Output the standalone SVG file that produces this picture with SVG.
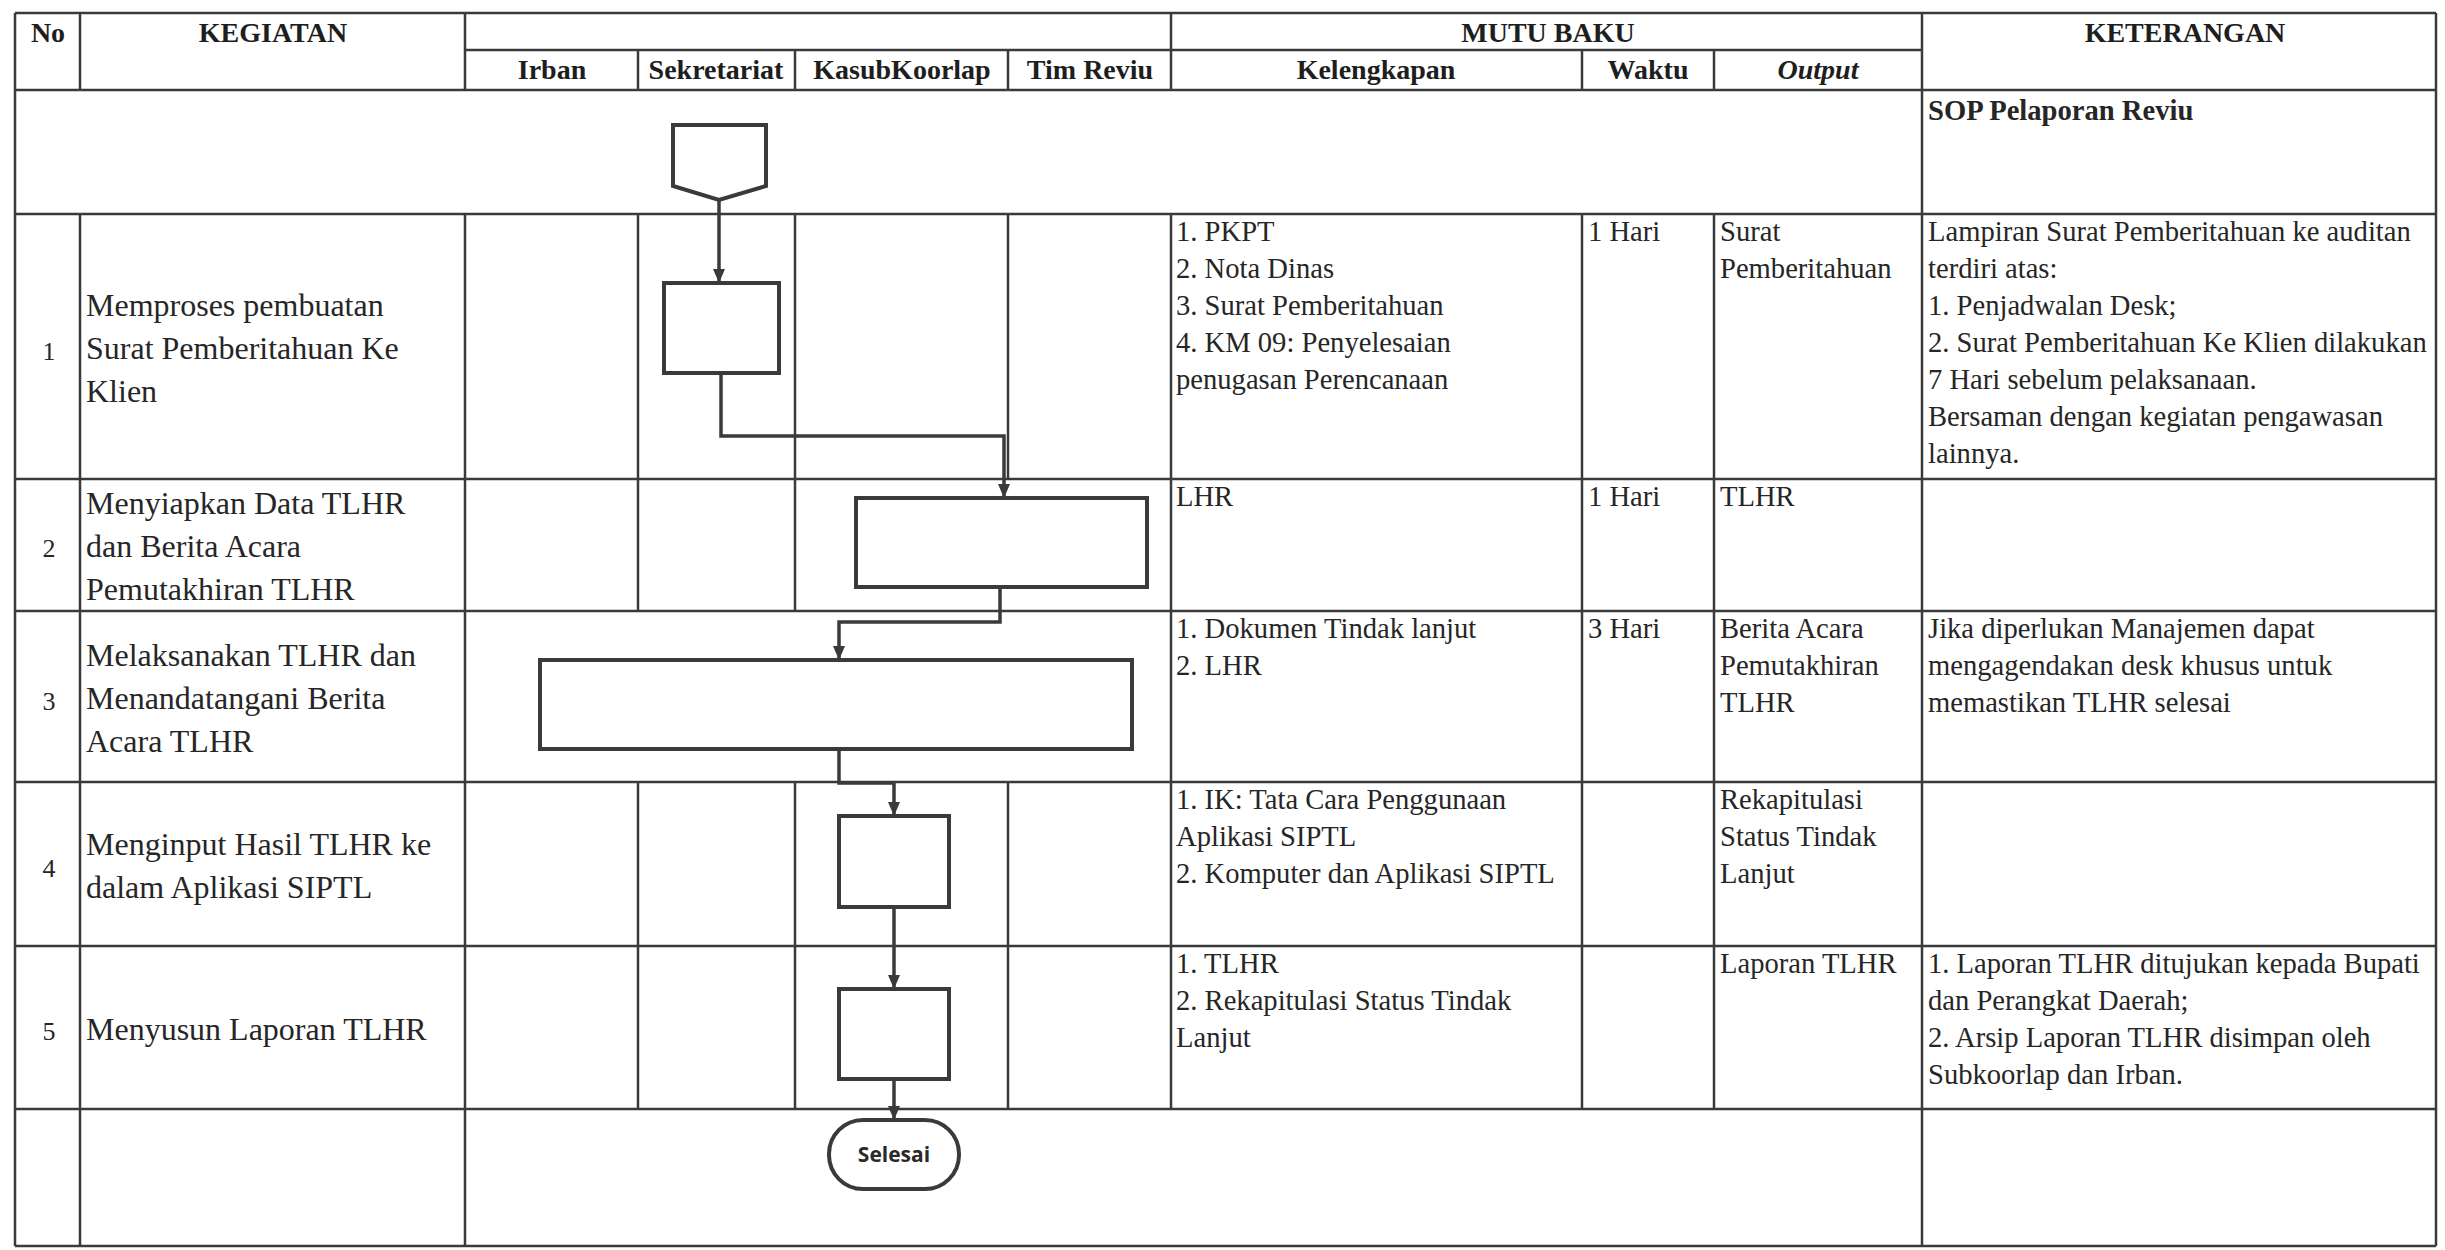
<svg xmlns="http://www.w3.org/2000/svg" width="2445" height="1250" viewBox="0 0 2445 1250">
<style>
  .grid { fill: none; stroke: #3a3a3a; stroke-width: 2.5; }
  .hd { font-family: "Liberation Serif", "Times New Roman", serif; font-weight: bold; font-size: 28px; fill: #1e1e1e; text-anchor: middle; }
  .keg { font-family: "Liberation Serif", "Times New Roman", serif; font-size: 32px; fill: #262626; }
  .num { font-family: "Liberation Serif", "Times New Roman", serif; font-size: 26px; fill: #262626; text-anchor: middle; }
  .txt { font-family: "Liberation Serif", "Times New Roman", serif; font-size: 28.6px; fill: #262626; }
  .bold { font-weight: bold; }
  .shape { fill: #ffffff; stroke: #3a3a3a; stroke-width: 4; }
  .conn { fill: none; stroke: #3a3a3a; stroke-width: 3.5; }
  .term { font-family: "Open Sans", "Liberation Sans", sans-serif; font-weight: bold; font-size: 21px; fill: #2a2a2a; text-anchor: middle; }
</style>
<defs>
  <marker id="arrow" markerUnits="userSpaceOnUse" markerWidth="16" markerHeight="14" refX="14" refY="6" orient="auto">
    <path d="M0,0 L14,6 L0,12 z" fill="#3a3a3a"/>
  </marker>
</defs>
<rect x="0" y="0" width="2445" height="1250" fill="#ffffff"/>

<g id="table-grid" class="grid">
  <path d="M15,13 H2436 M465,50 H1922 M15,90 H2436 M15,214 H2436 M15,479 H2436 M15,611 H2436 M15,782 H2436 M15,946 H2436 M15,1109 H2436 M15,1246 H2436"/>
  <path d="M15,13 V1246 M2436,13 V1246 M1922,13 V1246
           M80,13 V90 M80,214 V1246
           M465,13 V90 M465,214 V1246
           M1171,13 V90 M1171,214 V1109
           M638,50 V90 M638,214 V611 M638,782 V1109
           M795,50 V90 M795,214 V611 M795,782 V1109
           M1008,50 V90 M1008,214 V479 M1008,782 V1109
           M1582,50 V90 M1582,214 V1109
           M1714,50 V90 M1714,214 V1109"/>
</g>

<g id="header">
  <text class="hd" x="48" y="42">No</text>
  <text class="hd" x="273" y="42">KEGIATAN</text>
  <text class="hd" x="1548" y="42">MUTU BAKU</text>
  <text class="hd" x="2185" y="42">KETERANGAN</text>
  <text class="hd" x="552" y="79">Irban</text>
  <text class="hd" x="716" y="79">Sekretariat</text>
  <text class="hd" x="902" y="79">KasubKoorlap</text>
  <text class="hd" x="1090" y="79">Tim Reviu</text>
  <text class="hd" x="1376" y="79">Kelengkapan</text>
  <text class="hd" x="1648" y="79">Waktu</text>
  <text class="hd" x="1818" y="79" font-style="italic">Output</text>
</g>

<g id="row-0">
  <text class="txt bold" x="1928" y="120">SOP Pelaporan Reviu</text>
</g>

<g id="row-1">
  <text class="num" x="49" y="360">1</text>
  <text class="keg" x="86"><tspan x="86" y="316">Memproses pembuatan</tspan><tspan x="86" y="359">Surat Pemberitahuan Ke</tspan><tspan x="86" y="402">Klien</tspan></text>
  <text class="txt" x="1176"><tspan x="1176" y="241">1. PKPT</tspan><tspan x="1176" y="278">2. Nota Dinas</tspan><tspan x="1176" y="315">3. Surat Pemberitahuan</tspan><tspan x="1176" y="352">4. KM 09: Penyelesaian</tspan><tspan x="1176" y="389">penugasan Perencanaan</tspan></text>
  <text class="txt" x="1588" y="241">1 Hari</text>
  <text class="txt" x="1720"><tspan x="1720" y="241">Surat</tspan><tspan x="1720" y="278">Pemberitahuan</tspan></text>
  <text class="txt" x="1928"><tspan x="1928" y="241">Lampiran Surat Pemberitahuan ke auditan</tspan><tspan x="1928" y="278">terdiri atas:</tspan><tspan x="1928" y="315">1. Penjadwalan Desk;</tspan><tspan x="1928" y="352">2. Surat Pemberitahuan Ke Klien dilakukan</tspan><tspan x="1928" y="389">7 Hari sebelum pelaksanaan.</tspan><tspan x="1928" y="426">Bersaman dengan kegiatan pengawasan</tspan><tspan x="1928" y="463">lainnya.</tspan></text>
</g>

<g id="row-2">
  <text class="num" x="49" y="557">2</text>
  <text class="keg" x="86"><tspan x="86" y="514">Menyiapkan Data TLHR</tspan><tspan x="86" y="557">dan Berita Acara</tspan><tspan x="86" y="600">Pemutakhiran TLHR</tspan></text>
  <text class="txt" x="1176" y="506">LHR</text>
  <text class="txt" x="1588" y="506">1 Hari</text>
  <text class="txt" x="1720" y="506">TLHR</text>
</g>

<g id="row-3">
  <text class="num" x="49" y="710">3</text>
  <text class="keg" x="86"><tspan x="86" y="666">Melaksanakan TLHR dan</tspan><tspan x="86" y="709">Menandatangani Berita</tspan><tspan x="86" y="752">Acara TLHR</tspan></text>
  <text class="txt" x="1176"><tspan x="1176" y="638">1. Dokumen Tindak lanjut</tspan><tspan x="1176" y="675">2. LHR</tspan></text>
  <text class="txt" x="1588" y="638">3 Hari</text>
  <text class="txt" x="1720"><tspan x="1720" y="638">Berita Acara</tspan><tspan x="1720" y="675">Pemutakhiran</tspan><tspan x="1720" y="712">TLHR</tspan></text>
  <text class="txt" x="1928"><tspan x="1928" y="638">Jika diperlukan Manajemen dapat</tspan><tspan x="1928" y="675">mengagendakan desk khusus untuk</tspan><tspan x="1928" y="712">memastikan TLHR selesai</tspan></text>
</g>

<g id="row-4">
  <text class="num" x="49" y="877">4</text>
  <text class="keg" x="86"><tspan x="86" y="855">Menginput Hasil TLHR ke</tspan><tspan x="86" y="898">dalam Aplikasi SIPTL</tspan></text>
  <text class="txt" x="1176"><tspan x="1176" y="809">1. IK: Tata Cara Penggunaan</tspan><tspan x="1176" y="846">Aplikasi SIPTL</tspan><tspan x="1176" y="883">2. Komputer dan Aplikasi SIPTL</tspan></text>
  <text class="txt" x="1720"><tspan x="1720" y="809">Rekapitulasi</tspan><tspan x="1720" y="846">Status Tindak</tspan><tspan x="1720" y="883">Lanjut</tspan></text>
</g>

<g id="row-5">
  <text class="num" x="49" y="1040">5</text>
  <text class="keg" x="86" y="1040">Menyusun Laporan TLHR</text>
  <text class="txt" x="1176"><tspan x="1176" y="973">1. TLHR</tspan><tspan x="1176" y="1010">2. Rekapitulasi Status Tindak</tspan><tspan x="1176" y="1047">Lanjut</tspan></text>
  <text class="txt" x="1720" y="973">Laporan TLHR</text>
  <text class="txt" x="1928"><tspan x="1928" y="973">1. Laporan TLHR ditujukan kepada Bupati</tspan><tspan x="1928" y="1010">dan Perangkat Daerah;</tspan><tspan x="1928" y="1047">2. Arsip Laporan TLHR disimpan oleh</tspan><tspan x="1928" y="1084">Subkoorlap dan Irban.</tspan></text>
</g>

<g id="connectors">
  <path class="conn" d="M719,200 V283" marker-end="url(#arrow)"/>
  <path class="conn" d="M721,373 V436 H1004 V498" marker-end="url(#arrow)"/>
  <path class="conn" d="M1000,587 V622 H839 V660" marker-end="url(#arrow)"/>
  <path class="conn" d="M839,749 V783 H894 V816" marker-end="url(#arrow)"/>
  <path class="conn" d="M894,907 V989" marker-end="url(#arrow)"/>
  <path class="conn" d="M894,1079 V1120" marker-end="url(#arrow)"/>
</g>

<g id="node-start">
  <path class="shape" d="M673,125 H766 V186 L719,200 L673,186 Z"/>
</g>
<g id="node-1">
  <rect class="shape" x="664" y="283" width="115" height="90"/>
</g>
<g id="node-2">
  <rect class="shape" x="856" y="498" width="291" height="89"/>
</g>
<g id="node-3">
  <rect class="shape" x="540" y="660" width="592" height="89"/>
</g>
<g id="node-4">
  <rect class="shape" x="839" y="816" width="110" height="91"/>
</g>
<g id="node-5">
  <rect class="shape" x="839" y="989" width="110" height="90"/>
</g>
<g id="node-end">
  <rect class="shape" x="829" y="1120" width="130" height="69" rx="34" ry="34"/>
  <text class="term" x="894" y="1162">Selesai</text>
</g>
</svg>
